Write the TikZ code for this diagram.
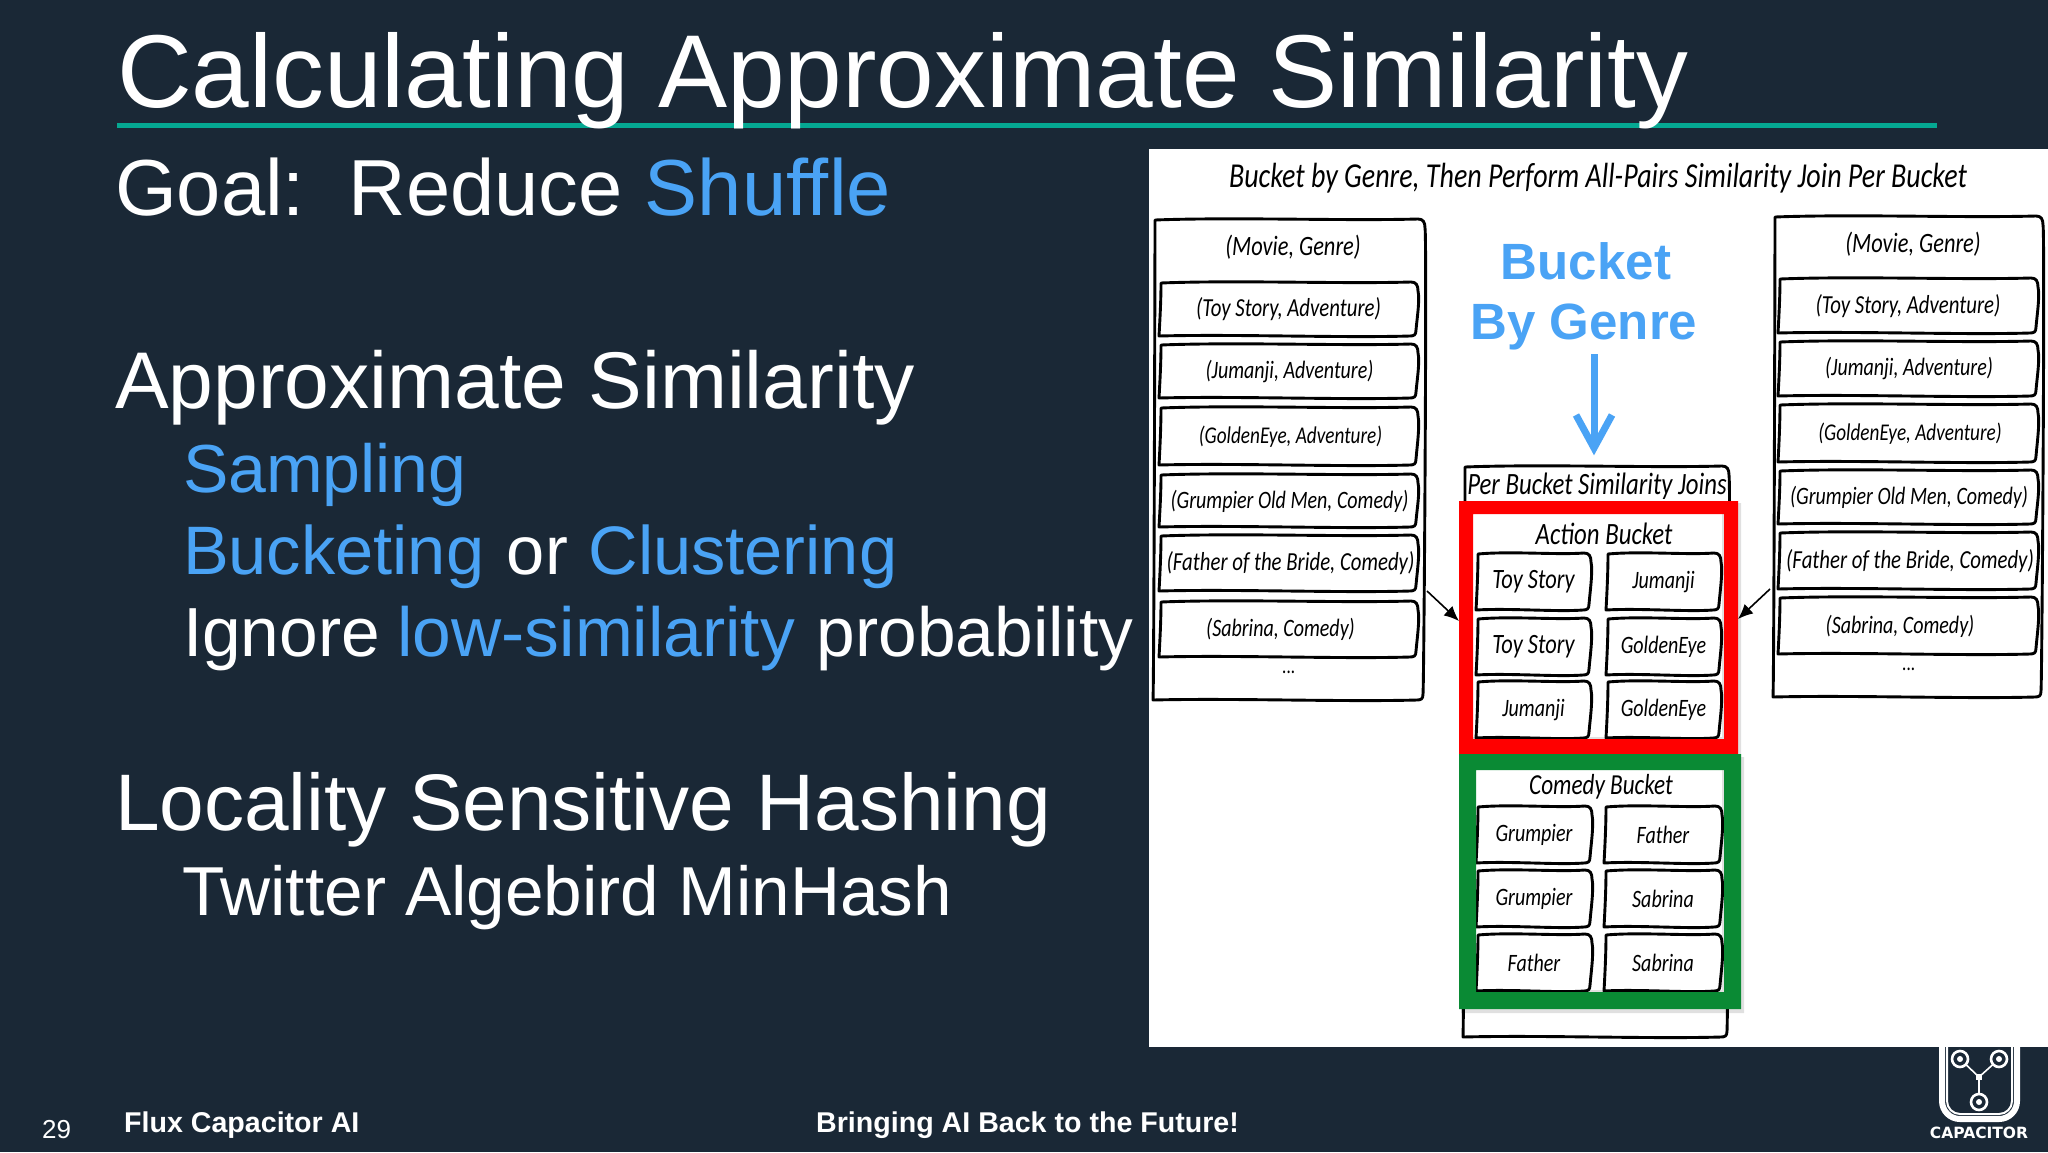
\documentclass[tikz,border=0pt]{standalone}
\usepackage{fontspec}
\setmainfont{Liberation Sans}
\newfontfamily\hwfont[FakeStretch=0.8]{Carlito}
\newfontfamily\logofont{DejaVu Sans}
\usetikzlibrary{arrows.meta}
\definecolor{slidebg}{HTML}{1A2836}
\definecolor{accent}{HTML}{4AA3F5}
\definecolor{teal}{HTML}{05A892}
\definecolor{framegreen}{HTML}{0A8A34}
\newcommand\fs[1]{\fontsize{#1}{#1}\selectfont}
\tikzset{
  lbl/.style={anchor=base west,inner sep=0pt,outer sep=0pt,text=white,font=\fs{#1}},
  lbl/.default=80,
  hw/.style={inner sep=0pt,text=black,font=\hwfont\itshape\fs{#1}},
  hw/.default=25,
  hwline/.style={draw=black,line width=2.9pt,line join=round},
  boxnode/.style={inner sep=0pt,outer sep=0pt,draw=none},
  foot/.style={anchor=base west,inner sep=0pt,text=white,font=\bfseries\fs{28.6}},
  conn/.style={black,line width=1.6pt,-{Latex[length=15pt,width=13pt]}},
}
% hand-drawn outline: x1,x2,y1,y2
\newcommand\hwoutline[4]{%
  \draw[hwline,fill=white] ({#1+2},{#3+1}) .. controls ({#1+(#2-#1)*.3},{#3-2}) and ({#2-(#2-#1)*.3},{#3+2}) .. ({#2-7},{#3})
   .. controls ({#2-2},{#3}) and ({#2},{#3+3}) .. ({#2},{#3+9})
   .. controls ({#2+2},{#3+18}) and ({#2-1},{#4-18}) .. ({#2-2},{#4-6})
   .. controls ({#2-2},{#4-1}) and ({#2-4},{#4}) .. ({#2-8},{#4})
   .. controls ({#2-(#2-#1)*.3},{#4+2}) and ({#1+(#2-#1)*.3},{#4-2}) .. ({#1},{#4})
   .. controls ({#1+1},{#4-18}) and ({#1+2},{#3+18}) .. cycle;}
% name, x1, x2, y1, y2, text dx, text
\newcommand\hwbox[7]{%
  \hwoutline{#2}{#3}{#4}{#5}
  \node[boxnode,minimum width={(#3-#2)*1pt},minimum height={(#5-#4)*1pt}] (#1) at ({(#2+#3)/2},{(#4+#5)/2}) {};
  \node[hw,name=#1t] at ([xshift=#6pt,yshift=-0.5pt]#1.center) {#7};}
\begin{document}
\begin{tikzpicture}[x=1pt,y=-1pt]
\useasboundingbox (0,0) rectangle (2048,1152);
\fill[slidebg] (0,0) rectangle (2048,1152);

% title and rule
\fill[teal] (117,122.5) rectangle (1937,127.5);
\node[lbl=103.6] (title) at (117,107) {Calculating Approximate Similarity};

% left text
\node[lbl=79.5] (goal) at (115,215) {Goal:\hspace{0.55em}Reduce \textcolor{accent}{Shuffle}};
\node[lbl=80.4] (approx) at (115,408) {Approximate Similarity};
\node[lbl=68] (samp) at (183,492) {\textcolor{accent}{Sampling}};
\node[lbl=68.6] (buck) at (183,574) {\textcolor{accent}{Bucketing}\hspace{.33em}or\hspace{.3em}\textcolor{accent}{Clustering}};
\node[lbl=69.5] (ignore) at (183,656) {Ignore\hspace{.25em}\textcolor{accent}{low-similarity}\hspace{.31em}probability};
\node[lbl=80.2] (lsh) at (115,830) {Locality Sensitive Hashing};
\node[lbl=69.3] (tw) at (182,915) {Twitter Algebird MinHash};

% footer
\node[anchor=base west,inner sep=0pt,text=white,font=\fs{26}] (page) at (42,1138) {29};
\node[foot] (brand) at (124,1132) {Flux Capacitor AI};
\node[foot] (tag) at (816,1132) {Bringing AI Back to the Future!};

% logo
\draw[white,line width=6pt,rounded corners=18pt] (1942,1020) rectangle (2017,1119);
\draw[white,line width=2pt,rounded corners=13pt] (1947,1020) rectangle (2012,1114);
\draw[white,line width=1.6pt] (1960,1059) -- (1979,1077) -- (1999,1059) (1979,1077) -- (1979,1102);
\foreach \cx/\cy in {1960/1059,1999/1059,1979/1102}{
  \draw[white,line width=2.6pt,fill=slidebg] (\cx,\cy) circle (8);
  \fill[white] (\cx,\cy) circle (3);}
\fill[white] (1976,1074) rectangle (1982,1080);
\node[inner sep=0pt,text=white,font=\logofont\bfseries\fs{15.5}] (logotext) at (1979,1133) {CAPACITOR};

% white panel
\fill[white] (1149,149) rectangle (2048,1047);

\node[hw=35] (ptitle) at (1598,178) {Bucket by Genre, Then Perform All-Pairs Similarity Join Per Bucket};

% left table
\hwoutline{1153}{1425}{219}{700}
\node[boxnode,minimum width=272pt,minimum height=481pt] (lefttable) at (1289,459.5) {};
\node[hw=28] (lhead) at (1293,247) {(Movie, Genre)};
\hwbox{la}{1159}{1418}{282}{336}{0}{\fs{26}(Toy Story, Adventure)}
\hwbox{lb}{1159}{1418}{344}{398}{1}{(Jumanji, Adventure)}
\hwbox{lc}{1159}{1418}{407}{465}{2}{\fs{24}(GoldenEye, Adventure)}
\hwbox{ld}{1159}{1418}{474}{527}{1}{(Grumpier Old Men, Comedy)}
\hwbox{le}{1159}{1418}{535}{591}{2}{\fs{26}(Father of the Bride, Comedy)}
\hwbox{lf}{1159}{1418}{601}{657}{-8}{(Sabrina, Comedy)}
\node[hw=22] (ldots) at (1289,672) {...};

% right table
\hwoutline{1773}{2043}{216}{697}
\node[boxnode,minimum width=270pt,minimum height=481pt] (righttable) at (1908,456.5) {};
\node[hw=28] (rhead) at (1913,244) {(Movie, Genre)};
\hwbox{ra}{1778}{2038}{278}{333}{0}{\fs{26}(Toy Story, Adventure)}
\hwbox{rb}{1778}{2038}{341}{396}{1}{(Jumanji, Adventure)}
\hwbox{rc}{1778}{2038}{404}{462}{2}{\fs{24}(GoldenEye, Adventure)}
\hwbox{rd}{1778}{2038}{470}{524}{1}{(Grumpier Old Men, Comedy)}
\hwbox{re}{1778}{2038}{532}{589}{2}{\fs{26}(Father of the Bride, Comedy)}
\hwbox{rf}{1778}{2038}{597}{654}{-8}{(Sabrina, Comedy)}
\node[hw=22] (rdots) at (1909,669) {...};

% middle heading and arrow
\node[inner sep=0pt,text=accent,font=\bfseries\fs{51}] (bk1) at (1586,261) {Bucket};
\node[inner sep=0pt,text=accent,font=\bfseries\fs{51}] (bk2) at (1584,327) {By Genre};
\coordinate (arrowtop) at (1594,354);
\coordinate (arrowtip) at (1594,448);
\draw[accent,line width=7pt] (arrowtop) -- (arrowtip);
\draw[accent,line width=7pt,line join=miter] (1576,415) -- (arrowtip) -- (1612,415);

% per bucket container
\hwoutline{1463}{1729}{466}{1037}
\node[boxnode,minimum width=266pt,minimum height=571pt] (perbucket) at (1596,751.5) {};
\node[hw=31] (pbt) at (1597,486) {Per Bucket Similarity Joins};

% frames' soft shadows
\fill[black,opacity=.12,even odd rule] (1461,503) rectangle (1741,757) (1471,512) rectangle (1722,737);
\fill[black,opacity=.12,even odd rule] (1461,757) rectangle (1744,1013) (1474,768) rectangle (1722,990);

% action bucket
\node[hw=31] (act) at (1604,534) {Action Bucket};
\hwbox{a1}{1476}{1591}{553}{610}{0}{\fs{28}Toy Story}
\hwbox{a2}{1606}{1721}{553}{610}{0}{Jumanji}
\hwbox{a3}{1476}{1591}{618}{675}{0}{\fs{28}Toy Story}
\hwbox{a4}{1606}{1721}{618}{675}{0}{GoldenEye}
\hwbox{a5}{1476}{1591}{681}{738}{0}{Jumanji}
\hwbox{a6}{1606}{1721}{681}{738}{0}{GoldenEye}

% comedy bucket
\node[hw=29] (com) at (1601,787) {Comedy Bucket};
\hwbox{c1}{1476}{1592}{806}{863}{0}{Grumpier}
\hwbox{c2}{1604}{1722}{806}{863}{0}{Father}
\hwbox{c3}{1476}{1592}{870}{927}{0}{Grumpier}
\hwbox{c4}{1604}{1722}{870}{927}{0}{Sabrina}
\hwbox{c5}{1476}{1592}{934}{991}{0}{Father}
\hwbox{c6}{1604}{1722}{934}{991}{0}{Sabrina}

% frames
\fill[red,even odd rule] (1459,501) rectangle (1738,754) (1473,514) rectangle (1724,739);
\fill[framegreen,even odd rule] (1459,754) rectangle (1741,1009) (1476,770) rectangle (1724,992);
\node[boxnode,minimum width=279pt,minimum height=253pt] (redframe) at (1598.5,627.5) {};

% connectors
\draw[conn] ([xshift=2pt,yshift=-131.5pt]lefttable.east) -- ([yshift=6.5pt]redframe.west);
\draw[conn] ([xshift=-3pt,yshift=-132.5pt]righttable.west) -- ([yshift=8.5pt]redframe.east);
\end{tikzpicture}
\end{document}
